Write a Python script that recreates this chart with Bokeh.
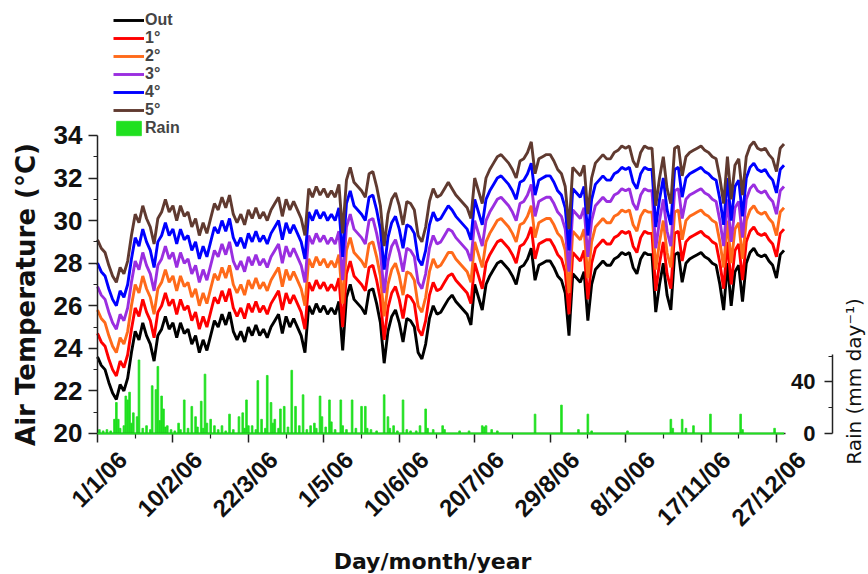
import math
from bokeh.plotting import figure
from bokeh.models import Range1d, LinearAxis, FixedTicker, Legend, LegendItem, Label
from bokeh.embed import file_html
from bokeh.resources import INLINE

# ---- data ----
days = list(range(0, 365, 2))

out_t = [23.6, 23.2, 23.0, 22.4, 21.9, 21.6, 22.3, 22.0, 22.6, 23.8,
         24.8, 24.4, 25.2, 24.6, 24.2, 23.4, 24.6, 24.9, 25.5, 24.9,
         25.2, 24.5, 25.2, 24.7, 24.9, 24.2, 24.6, 23.8, 24.4, 23.9,
         24.6, 25.3, 25.0, 25.6, 25.1, 25.7, 24.8, 24.4, 24.8, 24.3,
         25.0, 24.6, 25.1, 24.6, 24.9, 24.5, 25.0, 25.3, 25.6, 24.7,
         25.5, 25.0, 25.4, 25.0, 24.6, 23.8, 26.0, 25.6, 26.1, 25.7,
         26.0, 25.6, 25.9, 25.6, 26.2, 23.9, 26.4, 27.0, 26.3, 26.1,
         25.9, 25.6, 26.7, 26.8, 26.1, 25.2, 23.3, 24.8, 25.5, 25.8,
         25.2, 24.3, 25.4, 25.3, 25.0, 23.8, 23.5, 24.2, 25.4, 26.0,
         25.6, 25.7, 26.0, 26.3,
         26.5, 26.2, 26.0, 25.8, 25.6, 25.1, 27.0, 26.4, 25.8, 27.0,
         27.4, 27.7, 28.0, 28.1, 27.9, 27.7, 27.4, 27.0, 27.8, 27.9,
         28.2, 28.7, 27.2, 27.9, 28.0, 28.1, 28.1, 27.8, 27.4, 27.2,
         26.6, 24.6, 27.5, 27.3, 27.1, 27.6, 25.3, 27.0, 27.7, 27.9,
         28.1, 27.9, 27.9, 28.2, 28.3, 28.5, 28.4, 28.5, 27.8, 27.5,
         28.2, 28.5, 28.4, 28.4, 25.7, 27.0, 28.0, 26.5, 25.8, 28.4,
         28.5, 27.1, 28.0, 28.2, 28.3, 28.4, 28.5, 28.3, 28.2, 28.0,
         27.9, 27.0, 25.8, 28.0, 26.0, 27.6, 27.9, 26.2, 28.0, 28.5,
         28.7, 28.4, 28.3, 28.4, 28.1, 27.9, 27.3, 28.4, 28.6]

t1 = [24.7, 24.3, 24.1, 23.5, 23.0, 22.7, 23.4, 23.1, 23.7, 24.9,
      25.9, 25.5, 26.3, 25.7, 25.3, 24.5, 25.7, 26.0, 26.6, 26.0,
      26.3, 25.6, 26.3, 25.8, 26.0, 25.3, 25.7, 24.9, 25.5, 25.0,
      25.7, 26.4, 26.1, 26.7, 26.2, 26.8, 25.9, 25.5, 25.9, 25.4,
      26.1, 25.7, 26.2, 25.7, 26.0, 25.6, 26.1, 26.4, 26.7, 25.8,
      26.6, 26.1, 26.5, 26.1, 25.7, 24.9, 27.1, 26.7, 27.2, 26.8,
      27.1, 26.7, 27.0, 26.7, 27.3, 25.0, 27.5, 28.1, 27.4, 27.2,
      27.0, 26.7, 27.8, 27.9, 27.2, 26.3, 24.4, 25.9, 26.6, 26.9,
      26.3, 25.4, 26.5, 26.4, 26.1, 24.9, 24.6, 25.3, 26.5, 27.1,
      26.7, 26.8, 27.1, 27.4,
      27.5, 27.2, 27.0, 26.8, 26.6, 26.1, 28.0, 27.4, 26.8, 28.0,
      28.4, 28.7, 29.0, 29.1, 28.9, 28.7, 28.4, 28.0, 28.8, 28.9,
      29.2, 29.7, 28.2, 28.9, 29.0, 29.1, 29.1, 28.8, 28.4, 28.2,
      27.6, 25.6, 28.5, 28.3, 28.1, 28.6, 26.3, 28.0, 28.7, 28.9,
      29.1, 28.9, 28.9, 29.2, 29.3, 29.5, 29.4, 29.5, 28.8, 28.5,
      29.2, 29.5, 29.4, 29.4, 26.7, 28.0, 29.0, 27.5, 26.8, 29.4,
      29.5, 28.1, 29.0, 29.2, 29.3, 29.4, 29.5, 29.3, 29.2, 29.0,
      28.9, 28.0, 26.8, 29.0, 27.0, 28.6, 28.9, 27.2, 29.0, 29.5,
      29.7, 29.4, 29.3, 29.4, 29.1, 28.9, 28.3, 29.4, 29.6]

t2 = [25.8, 25.4, 25.2, 24.6, 24.1, 23.8, 24.5, 24.2, 24.8, 26.0,
      27.0, 26.6, 27.4, 26.8, 26.4, 25.6, 26.8, 27.1, 27.7, 27.1,
      27.4, 26.7, 27.4, 26.9, 27.1, 26.4, 26.8, 26.0, 26.6, 26.1,
      26.8, 27.5, 27.2, 27.8, 27.3, 27.9, 27.0, 26.6, 27.0, 26.5,
      27.2, 26.8, 27.3, 26.8, 27.1, 26.7, 27.2, 27.5, 27.8, 26.9,
      27.7, 27.2, 27.6, 27.2, 26.8, 26.0, 28.2, 27.8, 28.3, 27.9,
      28.2, 27.8, 28.1, 27.8, 28.4, 26.1, 28.6, 29.2, 28.5, 28.3,
      28.1, 27.8, 28.9, 29.0, 28.3, 27.4, 25.5, 27.0, 27.7, 28.0,
      27.4, 26.5, 27.6, 27.5, 27.2, 26.0, 25.7, 26.4, 27.6, 28.2,
      27.8, 27.9, 28.2, 28.5,
      28.5, 28.2, 28.0, 27.8, 27.6, 27.1, 29.0, 28.4, 27.8, 29.0,
      29.4, 29.7, 30.0, 30.1, 29.9, 29.7, 29.4, 29.0, 29.8, 29.9,
      30.2, 30.7, 29.2, 29.9, 30.0, 30.1, 30.1, 29.8, 29.4, 29.2,
      28.6, 26.6, 29.5, 29.3, 29.1, 29.6, 27.3, 29.0, 29.7, 29.9,
      30.1, 29.9, 29.9, 30.2, 30.3, 30.5, 30.4, 30.5, 29.8, 29.5,
      30.2, 30.5, 30.4, 30.4, 27.7, 29.0, 30.0, 28.5, 27.8, 30.4,
      30.5, 29.1, 30.0, 30.2, 30.3, 30.4, 30.5, 30.3, 30.2, 30.0,
      29.9, 29.0, 27.8, 30.0, 28.0, 29.6, 29.9, 28.2, 30.0, 30.5,
      30.7, 30.4, 30.3, 30.4, 30.1, 29.9, 29.3, 30.4, 30.6]

t3 = [26.9, 26.5, 26.3, 25.7, 25.2, 24.9, 25.6, 25.3, 25.9, 27.1,
      28.1, 27.7, 28.5, 27.9, 27.5, 26.7, 27.9, 28.2, 28.8, 28.2,
      28.5, 27.8, 28.5, 28.0, 28.2, 27.5, 27.9, 27.1, 27.7, 27.2,
      27.9, 28.6, 28.3, 28.9, 28.4, 29.0, 28.1, 27.7, 28.1, 27.6,
      28.3, 27.9, 28.4, 27.9, 28.2, 27.8, 28.3, 28.6, 28.9, 28.0,
      28.8, 28.3, 28.7, 28.3, 27.9, 27.1, 29.3, 28.9, 29.4, 29.0,
      29.3, 28.9, 29.2, 28.9, 29.5, 27.2, 29.7, 30.3, 29.6, 29.4,
      29.2, 28.9, 30.0, 30.1, 29.4, 28.5, 26.6, 28.1, 28.8, 29.1,
      28.5, 27.6, 28.7, 28.6, 28.3, 27.1, 26.8, 27.5, 28.7, 29.3,
      28.9, 29.0, 29.3, 29.6,
      29.5, 29.2, 29.0, 28.8, 28.6, 28.1, 30.0, 29.4, 28.8, 30.0,
      30.4, 30.7, 31.0, 31.1, 30.9, 30.7, 30.4, 30.0, 30.8, 30.9,
      31.2, 31.7, 30.2, 30.9, 31.0, 31.1, 31.1, 30.8, 30.4, 30.2,
      29.6, 27.6, 30.5, 30.3, 30.1, 30.6, 28.3, 30.0, 30.7, 30.9,
      31.1, 30.9, 30.9, 31.2, 31.3, 31.5, 31.4, 31.5, 30.8, 30.5,
      31.2, 31.5, 31.4, 31.4, 28.7, 30.0, 31.0, 29.5, 28.8, 31.4,
      31.5, 30.1, 31.0, 31.2, 31.3, 31.4, 31.5, 31.3, 31.2, 31.0,
      30.9, 30.0, 28.8, 31.0, 29.0, 30.6, 30.9, 29.2, 31.0, 31.5,
      31.7, 31.4, 31.3, 31.4, 31.1, 30.9, 30.3, 31.4, 31.6]

t4 = [28.0, 27.6, 27.4, 26.8, 26.3, 26.0, 26.7, 26.4, 27.0, 28.2,
      29.2, 28.8, 29.6, 29.0, 28.6, 27.8, 29.0, 29.3, 29.9, 29.3,
      29.6, 28.9, 29.6, 29.1, 29.3, 28.6, 29.0, 28.2, 28.8, 28.3,
      29.0, 29.7, 29.4, 30.0, 29.5, 30.1, 29.2, 28.8, 29.2, 28.7,
      29.4, 29.0, 29.5, 29.0, 29.3, 28.9, 29.4, 29.7, 30.0, 29.1,
      29.9, 29.4, 29.8, 29.4, 29.0, 28.2, 30.4, 30.0, 30.5, 30.1,
      30.4, 30.0, 30.3, 30.0, 30.6, 28.3, 30.8, 31.4, 30.7, 30.5,
      30.3, 30.0, 31.1, 31.2, 30.5, 29.6, 27.7, 29.2, 29.9, 30.2,
      29.6, 28.7, 29.8, 29.7, 29.4, 28.2, 27.9, 28.6, 29.8, 30.4,
      30.0, 30.1, 30.4, 30.7,
      30.5, 30.2, 30.0, 29.8, 29.6, 29.1, 31.0, 30.4, 29.8, 31.0,
      31.4, 31.7, 32.0, 32.1, 31.9, 31.7, 31.4, 31.0, 31.8, 31.9,
      32.2, 32.7, 31.2, 31.9, 32.0, 32.1, 32.1, 31.8, 31.4, 31.2,
      30.6, 28.6, 31.5, 31.3, 31.1, 31.6, 29.3, 31.0, 31.7, 31.9,
      32.1, 31.9, 31.9, 32.2, 32.3, 32.5, 32.4, 32.5, 31.8, 31.5,
      32.2, 32.5, 32.4, 32.4, 29.7, 31.0, 32.0, 30.5, 29.8, 32.4,
      32.5, 31.1, 32.0, 32.2, 32.3, 32.4, 32.5, 32.3, 32.2, 32.0,
      31.9, 31.0, 29.8, 32.0, 30.0, 31.6, 31.9, 30.2, 32.0, 32.5,
      32.7, 32.4, 32.3, 32.4, 32.1, 31.9, 31.3, 32.4, 32.6]

t5 = [29.1, 28.7, 28.5, 27.9, 27.4, 27.1, 27.8, 27.5, 28.1, 29.3,
      30.3, 29.9, 30.7, 30.1, 29.7, 28.9, 30.1, 30.4, 31.0, 30.4,
      30.7, 30.0, 30.7, 30.2, 30.4, 29.7, 30.1, 29.3, 29.9, 29.4,
      30.1, 30.8, 30.5, 31.1, 30.6, 31.2, 30.3, 29.9, 30.3, 29.8,
      30.5, 30.1, 30.6, 30.1, 30.4, 30.0, 30.5, 30.8, 31.1, 30.2,
      31.0, 30.5, 30.9, 30.5, 30.1, 29.3, 31.5, 31.1, 31.6, 31.2,
      31.5, 31.1, 31.4, 31.1, 31.7, 29.4, 31.9, 32.5, 31.8, 31.6,
      31.4, 31.1, 32.2, 32.3, 31.6, 30.7, 28.8, 30.3, 31.0, 31.3,
      30.7, 29.8, 30.9, 30.8, 30.5, 29.3, 29.0, 29.7, 30.9, 31.5,
      31.1, 31.2, 31.5, 31.8,
      31.5, 31.2, 31.0, 30.8, 30.6, 30.1, 32.0, 31.4, 30.8, 32.0,
      32.4, 32.7, 33.0, 33.1, 32.9, 32.7, 32.4, 32.0, 32.8, 32.9,
      33.2, 33.7, 32.2, 32.9, 33.0, 33.1, 33.1, 32.8, 32.4, 32.2,
      31.6, 29.6, 32.5, 32.3, 32.1, 32.6, 30.3, 32.0, 32.7, 32.9,
      33.1, 32.9, 32.9, 33.2, 33.3, 33.5, 33.4, 33.5, 32.8, 32.5,
      33.2, 33.5, 33.4, 33.4, 30.7, 32.0, 33.0, 31.5, 30.8, 33.4,
      33.5, 32.1, 33.0, 33.2, 33.3, 33.4, 33.5, 33.3, 33.2, 33.0,
      32.9, 32.0, 30.8, 33.0, 31.0, 32.6, 32.9, 31.2, 33.0, 33.5,
      33.7, 33.4, 33.3, 33.4, 33.1, 32.9, 32.3, 33.4, 33.6]

rain_day = [1, 3, 5, 7, 9, 10, 11, 12, 14, 15, 16, 17, 18, 19, 21, 22, 24, 26, 28, 29,
            31, 32, 33, 34, 35, 36, 37, 39, 41, 43, 44, 46, 48, 50, 52, 53, 55, 56, 57, 58,
            60, 62, 64, 66, 68, 70, 72, 75, 77, 78, 79, 80, 82, 84, 85, 87, 89, 90, 92, 93,
            94, 96, 97, 99, 101, 103, 105, 107, 109, 111, 113, 115, 116, 118, 119, 121, 123, 124, 126, 129,
            130, 132, 135, 137, 140, 142, 143, 145, 148, 152, 154, 155, 157, 159, 162, 164, 166, 169, 171, 174,
            175, 178, 183, 184, 192, 197, 204, 205, 206, 209, 212, 232, 246, 255, 260, 262, 281, 304, 305, 310,
            312, 316, 325, 341, 342, 359]
rain_mm = [3, 2, 3, 2, 11, 24, 11, 4, 6, 29, 26, 32, 8, 16, 13, 57, 4, 6, 3, 37,
           34, 52, 10, 29, 19, 5, 6, 3, 2, 8, 3, 26, 4, 21, 13, 5, 25, 4, 46, 8,
           11, 6, 3, 6, 2, 15, 3, 13, 16, 4, 26, 6, 6, 3, 41, 11, 4, 45, 24, 8,
           11, 4, 19, 21, 5, 49, 21, 6, 30, 3, 6, 8, 4, 29, 13, 5, 26, 9, 3, 26,
           6, 3, 26, 4, 21, 21, 4, 3, 2, 30, 13, 4, 6, 2, 26, 3, 2, 2, 6, 19,
           4, 3, 6, 3, 2, 2, 6, 5, 6, 3, 2, 15, 22, 3, 15, 2, 2, 11, 4, 11,
           4, 6, 15, 15, 3, 4]

x_ticks = [0, 40, 80, 120, 160, 200, 240, 280, 320, 360]
x_minor = [20, 60, 100, 140, 180, 220, 260, 300, 340]
x_tick_labels = ["1/1/06", "10/2/06", "22/3/06", "1/5/06", "10/6/06",
                 "20/7/06", "29/8/06", "8/10/06", "17/11/06", "27/12/06"]
y_ticks = [20, 22, 24, 26, 28, 30, 32, 34]
y_minor = [21, 23, 25, 27, 29, 31, 33]
rain_ticks = [0, 40]
rain_minor = [20, 60]

series = [("Out", out_t, "#000000"), ("1°", t1, "#ff0000"), ("2°", t2, "#ff6a1a"),
          ("3°", t3, "#9a2ee0"), ("4°", t4, "#0000ff"), ("5°", t5, "#603a30")]
rain_color = "#1fe01f"

# ---- scales: the frame covers the whole canvas, axes sit at fixed data positions ----
X0, X1 = -51.43, 408.8          # days  (day 0 -> x=97 px, day 365 -> 785 px)
Y0, Y1 = 13.377, 40.338         # °C    (20 -> y=433 px, 34 -> 135 px)
R0, R1 = -109.3, 335.66         # mm    (0 -> y=433 px, 40 -> 381 px)
RAIN_AXIS_DAY = 389.7           # day position of the rain axis line
LABEL_SHIFT = 13.3              # days: centres rotated date labels under their ticks

p = figure(width=868, height=574, output_backend="svg", toolbar_location=None,
           x_range=Range1d(X0, X1), y_range=Range1d(Y0, Y1),
           x_axis_type=None, y_axis_type=None,
           min_border_left=0, min_border_right=0, min_border_top=0, min_border_bottom=0)
p.extra_y_ranges = {"rain": Range1d(R0, R1)}
p.extra_x_ranges = {"lab": Range1d(X0 - LABEL_SHIFT, X1 - LABEL_SHIFT)}
p.outline_line_color = None
p.background_fill_color = "white"
p.border_fill_color = "white"

r_rain = p.vbar(x=rain_day, top=rain_mm, width=0.9, y_range_name="rain",
                fill_color=rain_color, line_color=rain_color, line_width=0.8)

renderers = []
for name, vals, col in series:
    r = p.line(x=days, y=vals, line_color=col, line_width=2.9)
    renderers.append((name, r))

FONT = "Liberation Sans"
AXC = "#222222"

# bottom axis: line + ticks
xaxis = LinearAxis(ticker=FixedTicker(ticks=x_ticks, minor_ticks=x_minor), bounds=(0, 365),
                   fixed_location=y_ticks[0],
                   major_label_overrides={t: "" for t in x_ticks},
                   major_label_text_font_size="1px", major_label_standoff=0)
p.add_layout(xaxis, "below")
# bottom axis: rotated date labels
xlab = LinearAxis(x_range_name="lab", ticker=FixedTicker(ticks=x_ticks, minor_ticks=[]),
                  fixed_location=y_ticks[0],
                  major_label_overrides={t: l for t, l in zip(x_ticks, x_tick_labels)},
                  major_label_orientation=math.pi / 4, major_label_standoff=22,
                  axis_line_color=None, major_tick_line_color=None, minor_tick_line_color=None,
                  major_tick_out=0, major_tick_in=0, minor_tick_out=0, minor_tick_in=0)
p.add_layout(xlab, "below")

yaxis = LinearAxis(ticker=FixedTicker(ticks=y_ticks, minor_ticks=y_minor), bounds=(20, 34),
                   fixed_location=x_ticks[0])
p.add_layout(yaxis, "left")

raxis = LinearAxis(y_range_name="rain", ticker=FixedTicker(ticks=rain_ticks, minor_ticks=rain_minor),
                   bounds=(0, 61), fixed_location=RAIN_AXIS_DAY)
p.add_layout(raxis, "left")

for ax in (xaxis, xlab, yaxis, raxis):
    ax.major_label_text_font = FONT
    ax.major_label_text_font_style = "bold"
    ax.major_label_text_color = "#111111"
for ax in (xaxis, yaxis, raxis):
    ax.axis_line_color = AXC
    ax.axis_line_width = 1.5
    ax.major_tick_line_color = AXC
    ax.minor_tick_line_color = AXC
    ax.major_tick_line_width = 1.5
    ax.minor_tick_line_width = 1.2

xaxis.major_tick_out = 9
xaxis.major_tick_in = 0
xaxis.minor_tick_out = 5
xaxis.minor_tick_in = 0
xlab.major_label_text_font_size = "24px"

yaxis.major_tick_out = 9
yaxis.major_tick_in = 0
yaxis.minor_tick_out = 4
yaxis.minor_tick_in = 0
yaxis.major_label_text_font_size = "26px"
yaxis.major_label_standoff = 6

raxis.major_tick_out = 8
raxis.major_tick_in = 0
raxis.minor_tick_out = 4
raxis.minor_tick_in = 0
raxis.major_label_text_font_size = "22px"
raxis.major_label_standoff = 9

# green zero line of the rain series, drawn over the time axis
p.line(x=[days[0], days[-1]], y=[rain_ticks[0], rain_ticks[0]], y_range_name="rain",
       line_color=rain_color, line_width=2, level="overlay")

# axis titles (screen offsets from the canvas bottom-left corner)
p.add_layout(Label(x=25, y=280, x_units="screen", y_units="screen", angle=math.pi / 2,
                   text="Air Temperature (°C)", text_font="DejaVu Sans", text_font_style="bold",
                   text_font_size="26px", text_align="center", text_baseline="middle",
                   text_color="#111111"))
p.add_layout(Label(x=432, y=26, x_units="screen", y_units="screen",
                   text="Day/month/year", text_font="DejaVu Sans", text_font_style="bold",
                   text_font_size="22px", text_align="center", text_baseline="top",
                   text_color="#111111"))
p.add_layout(Label(x=853, y=193, x_units="screen", y_units="screen", angle=math.pi / 2,
                   text="Rain (mm day⁻¹)", text_font="DejaVu Sans", text_font_style="normal",
                   text_font_size="20px", text_align="center", text_baseline="middle",
                   text_color="#111111"))

items = [LegendItem(label=n, renderers=[r]) for n, r in renderers]
items.append(LegendItem(label="Rain", renderers=[r_rain]))
legend = Legend(items=items, location=(113, 437), padding=0, margin=0, spacing=0,
                glyph_width=31, glyph_height=18, label_height=18, label_standoff=1,
                label_text_font=FONT, label_text_font_style="bold", label_text_font_size="16px",
                border_line_color=None, background_fill_alpha=0)
p.add_layout(legend)

open("out.html", "w").write(file_html(p, INLINE))
